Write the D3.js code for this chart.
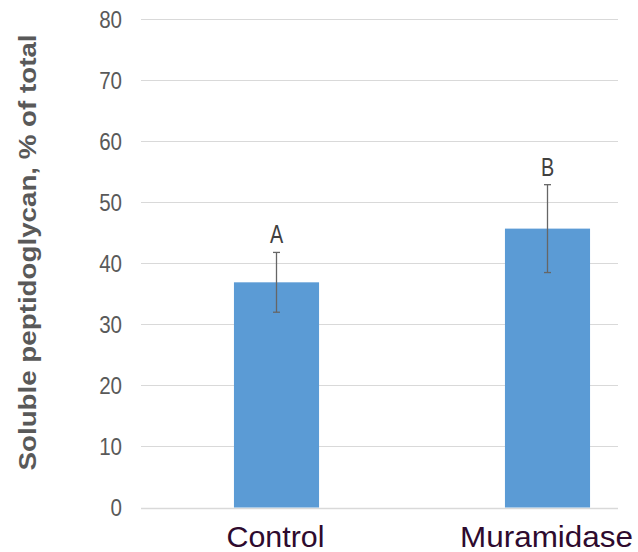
<!DOCTYPE html>
<html><head><meta charset="utf-8">
<script src="https://cdn.jsdelivr.net/npm/d3@7"></script>
<style>body{margin:0;background:#fff}svg{display:block}</style>
</head><body>
<svg id="c" width="638" height="552"></svg>
<script>
const categories = ["Control", "Muramidase"];
const values = [36.9, 45.7];
const errors = [4.9, 7.2];
const letters = ["A", "B"];
const yTicks = [0, 10, 20, 30, 40, 50, 60, 70, 80];

const svg = d3.select("#c");
const y = d3.scaleLinear().domain([0, 80]).range([507.5, 19.3]);
const x = d3.scaleBand().domain(categories).range([141, 683]);
const barW = x.bandwidth() * 0.314;
const gridRight = 618, gridLeft = 141;
const FONT = "Liberation Sans, Arial, sans-serif";

// gridlines
svg.append("g").selectAll("line").data(yTicks).join("line")
  .attr("x1", gridLeft).attr("x2", gridRight)
  .attr("y1", d => Math.round(y(d)) + 0.5).attr("y2", d => Math.round(y(d)) + 0.5)
  .attr("stroke", "#d9d9d9").attr("stroke-width", d => d === 0 ? 1.5 : 1.2);

// y tick labels
svg.append("g").selectAll("text").data(yTicks).join("text")
  .attr("transform", d => `translate(122,${y(d)}) scale(0.98,1.12)`)
  .attr("dy", "0.35em")
  .attr("text-anchor", "end")
  .attr("font-family", FONT)
  .attr("font-size", 21).attr("fill", "#595959")
  .text(d => d);

// bars
svg.append("g").selectAll("rect").data(categories).join("rect")
  .attr("x", d => x(d) + x.bandwidth() / 2 - barW / 2)
  .attr("width", barW)
  .attr("y", (d, i) => y(values[i]))
  .attr("height", (d, i) => y(0) - y(values[i]))
  .attr("fill", "#5B9BD5");

// error bars
const eg = svg.append("g").attr("stroke", "#666").attr("stroke-width", 1.3);
categories.forEach((c, i) => {
  const cx = x(c) + x.bandwidth() / 2;
  const top = y(values[i] + errors[i]), bot = y(values[i] - errors[i]);
  eg.append("line").attr("x1", cx).attr("x2", cx).attr("y1", top).attr("y2", bot);
  eg.append("line").attr("x1", cx - 3.5).attr("x2", cx + 3.5).attr("y1", top).attr("y2", top);
  eg.append("line").attr("x1", cx - 3.5).attr("x2", cx + 3.5).attr("y1", bot).attr("y2", bot);
  svg.append("text")
    .attr("transform", `translate(${cx},${top - 9}) scale(0.9,1.18)`)
    .attr("text-anchor", "middle")
    .attr("font-family", FONT)
    .attr("font-size", 22).attr("fill", "#404040")
    .text(letters[i]);
});

// x labels
const xLabelW = [98, 173];
svg.append("g").selectAll("text").data(categories).join("text")
  .attr("x", d => x(d) + x.bandwidth() / 2 - 1).attr("y", 547)
  .attr("text-anchor", "middle")
  .attr("font-family", FONT)
  .attr("font-size", 29).attr("fill", "#2E0A2E")
  .attr("textLength", (d, i) => xLabelW[i])
  .attr("lengthAdjust", "spacingAndGlyphs")
  .text(d => d);

// y axis title
svg.append("text")
  .attr("transform", "translate(36,252.5) rotate(-90)")
  .attr("text-anchor", "middle")
  .attr("font-family", FONT)
  .attr("font-weight", "bold")
  .attr("font-size", 23).attr("fill", "#595959")
  .attr("textLength", 436)
  .attr("lengthAdjust", "spacingAndGlyphs")
  .text("Soluble peptidoglycan, % of total");
</script>
</body></html>
